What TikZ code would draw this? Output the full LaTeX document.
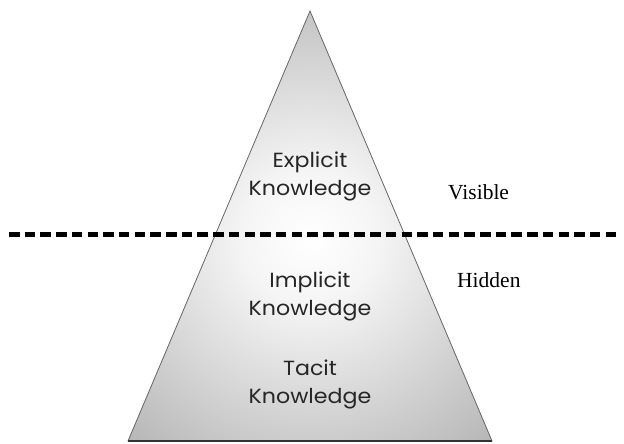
\documentclass[tikz,border=0pt]{standalone}
\usepackage{fontspec}
\setmainfont{Liberation Serif}
\newfontfamily\gothic[FakeStretch=1.08]{Poppins}
\pgfdeclareradialshading{glow}{\pgfpoint{0bp}{0bp}}{color(0bp)=(white); color(6bp)=(white!96!black); color(33bp)=(black!40); color(50bp)=(black!40)}
\begin{document}
\begin{tikzpicture}[x=1pt,y=-1pt,
  layer/.style={font=\gothic\fontsize{20.5}{28}\selectfont, text=black!85, align=center, inner sep=0pt, anchor=base},
  side/.style={font=\fontsize{21.5}{24}\selectfont, inner sep=0pt, anchor=base west}]
\useasboundingbox (0,0) rectangle (624,444);
\coordinate (apex) at (310,11);
\coordinate (bl) at (128,441);
\coordinate (br) at (492,441);
\begin{scope}
  \clip (apex) -- (br) -- (bl) -- cycle;
  \shade[shading=glow] (30,-42) rectangle (590,518);
\end{scope}
\draw[black!60, line width=0.8pt] (apex) -- (br) -- (bl) -- cycle;
\draw[black!80, line width=1.6pt] (bl) -- (br);
\coordinate (dl) at (9,234);
\coordinate (dr) at (620,234);
\draw[line width=5pt, dash pattern=on 10.5pt off 5.2pt] (dl) -- (dr);
\node[layer] (explicit) at (310,195) {Explicit\\Knowledge};
\node[layer] (implicit) at (310,315) {Implicit\\Knowledge};
\node[layer] (tacit) at (310,403) {Tacit\\Knowledge};
\node[side] (visible) at (448,199) {Visible};
\node[side] (hidden) at (457,287) {Hidden};
\end{tikzpicture}
\end{document}
